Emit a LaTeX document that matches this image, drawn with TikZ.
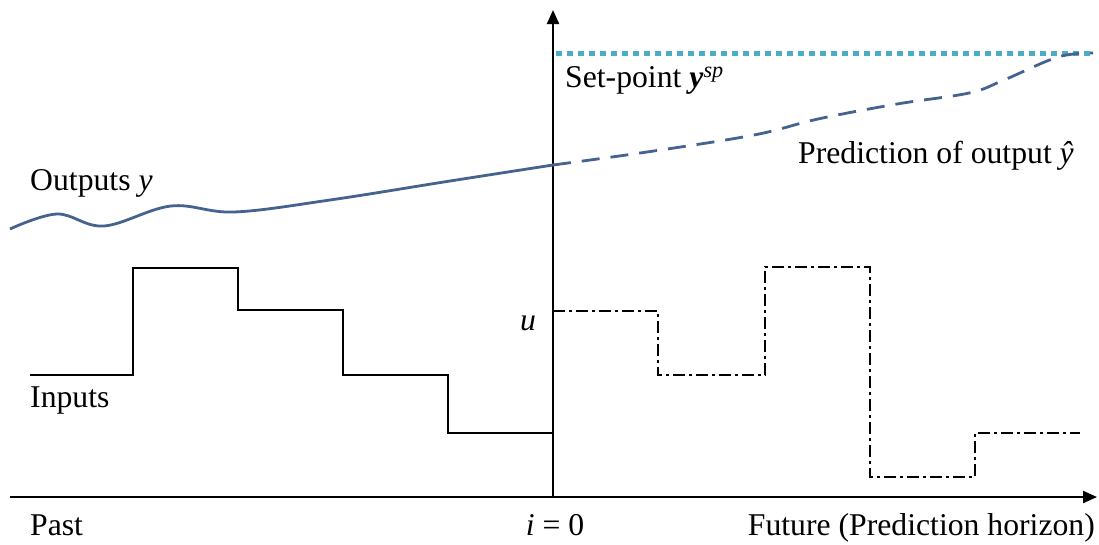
\documentclass[tikz,border=0pt]{standalone}
\usepackage{fontspec}
\setmainfont{Liberation Serif}
\usetikzlibrary{arrows.meta}
\definecolor{outblue}{HTML}{44638F}
\definecolor{spcyan}{HTML}{4BACC6}
\begin{document}
\begin{tikzpicture}[x=1pt,y=-1pt,
  every node/.style={font=\fontsize{31.7}{38}\selectfont, inner sep=0pt},
  axis/.style={line width=2.2pt, -{Triangle[length=14pt,width=12pt]}},
  pastin/.style={line width=2pt},
  futin/.style={line width=2pt, dash pattern=on 12pt off 4pt on 3pt off 4pt},
  outline/.style={outblue, line width=2.8pt},
  predline/.style={outblue, line width=2.8pt, dash pattern=on 18pt off 11pt},
  spline/.style={spcyan, line width=5pt, dash pattern=on 5.5pt off 5.5pt}]
\useasboundingbox (0,0) rectangle (1099,544);
% axes
\coordinate (o) at (553,497);
\coordinate (xend) at (1097,497);
\coordinate (xstart) at (10,497);
\coordinate (ytop) at (553,10);
\draw[axis] (xstart) -- (xend);
\draw[axis] (o) -- (ytop);
% set-point
\coordinate (sp0) at (556,53);
\coordinate (sp1) at (1093,53);
\draw[spline] (sp0) -- (sp1);
% past inputs
\draw[pastin] (30,375) -- (133,375) -- (133,268) -- (238,268) -- (238,310) -- (343,310)
  -- (343,375) -- (448,375) -- (448,433) -- (553,433);
% future inputs
\draw[futin] (553,311) -- (658,311) -- (658,375) -- (765,375) -- (765,267) -- (870,267)
  -- (870,477) -- (975,477) -- (975,433) -- (1080,433);
% outputs
\draw[outline] plot[smooth, tension=0.6] coordinates {(10,229) (57,214) (104,226) (171,206) (234,212) (330,200) (450,181) (553,165)};
\draw[predline] plot[smooth, tension=0.6] coordinates {(553,165) (647,152) (754,135) (818,119) (897,104) (969,93) (1004,80) (1058,57) (1093,53)};
% labels
\node[anchor=base west] (lsp) at (565,87) {Set-point \textbf{\textit{y}}\textsuperscript{\textit{sp}}};
\node[anchor=base west] (lpred) at (798,163) {Prediction of output \textit{ŷ}};
\node[anchor=base west] (lout) at (30,190) {Outputs \textit{y}};
\node[anchor=base west] (lin) at (30,407) {Inputs};
\node[anchor=base] (lu) at (528,330) {\textit{u}};
\node[anchor=base west] (lpast) at (30,535) {Past};
\node[anchor=base] (li) at (555,535) {\textit{i} = 0};
\node[anchor=base east] (lfut) at (1095,535) {Future (Prediction horizon)};
\end{tikzpicture}
\end{document}
